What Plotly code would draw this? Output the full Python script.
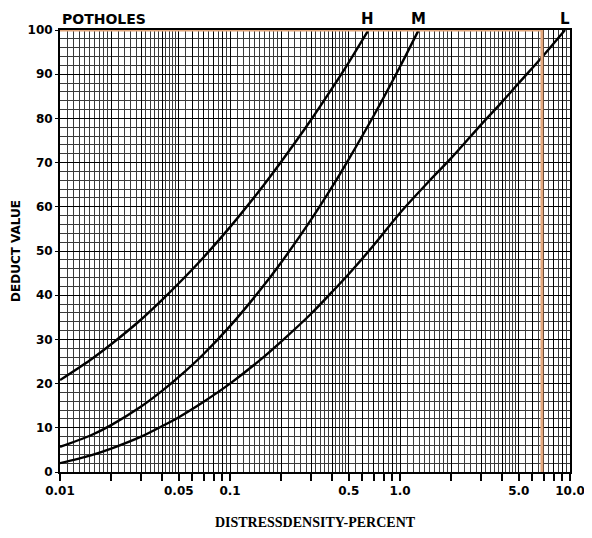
import plotly.graph_objects as go
import numpy as np

# Data (distress density %, deduct value)
h_density = [0.01, 0.015, 0.02, 0.03, 0.04, 0.05, 0.07, 0.1, 0.15, 0.2, 0.3, 0.4, 0.5, 0.648]
h_deduct = [20.8, 25.3, 28.9, 34.5, 39.0, 42.7, 48.6, 55.4, 63.8, 70.2, 79.7, 86.9, 92.7, 99.8]

m_density = [0.01, 0.015, 0.02, 0.03, 0.04, 0.05, 0.07, 0.1, 0.15, 0.2, 0.3, 0.4, 0.5, 0.7, 1.0, 1.28]
m_deduct = [5.7, 8.2, 10.6, 14.8, 18.4, 21.5, 26.7, 33.0, 41.1, 47.4, 57.1, 64.6, 70.8, 80.6, 91.7, 99.8]

l_density = [0.01, 0.015, 0.02, 0.03, 0.04, 0.05, 0.07, 0.1, 0.15, 0.2, 0.3, 0.4, 0.5, 0.7, 1.0,
             1.5, 2.0, 3.0, 4.0, 5.0, 7.0, 9.35]
l_deduct = [2.0, 3.7, 5.3, 8.0, 10.4, 12.4, 15.9, 20.0, 25.3, 29.5, 35.8, 40.8, 44.8, 51.3, 58.6,
            66.0, 71.0, 78.6, 83.8, 88.0, 94.3, 100.0]

x_tick_labels = {0.01: "0.01", 0.05: "0.05", 0.1: "0.1", 0.5: "0.5", 1.0: "1.0", 5.0: "5.0", 10.0: "10.0"}
y_ticks = list(range(0, 101, 10))
edge_x = 6.84  # orange scan-mark position

decades = [0.01, 0.1, 1.0]
major_x = [round(d * m, 6) for d in decades for m in range(1, 10)] + [10.0]
fine_mant = list(np.round(np.arange(1.0, 2.0, 0.1), 3)) + list(np.round(np.arange(2.0, 5.0, 0.2), 3)) + list(np.round(np.arange(5.0, 10.0, 0.5), 3))
minor_x = [round(d * m, 6) for d in decades for m in fine_mant]

fig = go.Figure()
for xs, ys, name in [(h_density, h_deduct, "H"), (m_density, m_deduct, "M"), (l_density, l_deduct, "L")]:
    fig.add_trace(go.Scatter(x=xs, y=ys, mode="lines", line=dict(color="black", width=2.4, shape="spline", smoothing=0.8),
                             name=name, showlegend=False, hoverinfo="skip"))
    fig.add_annotation(x=np.log10(xs[-1]), y=1.0, xref="x", yref="paper", yanchor="bottom", yshift=0,
                       text="<b>%s</b>" % name, showarrow=False,
                       font=dict(family="DejaVu Sans", size=15, color="black"))

# orange highlight (scan artifact)
fig.add_shape(type="line", xref="x", yref="y", x0=0.01, x1=edge_x, y0=100, y1=100,
              line=dict(color="#e4a77c", width=3))
fig.add_shape(type="line", xref="x", yref="y", x0=edge_x, x1=edge_x, y0=0, y1=100,
              line=dict(color="#e4a77c", width=3))

fig.update_xaxes(type="log", range=[-2, 1], automargin=False, ticklabeloverflow="allow",
                 tickvals=major_x, ticktext=[x_tick_labels.get(v, "") for v in major_x],
                 ticks="outside", ticklen=7, tickcolor="black", tickwidth=1.5,
                 showgrid=True, gridcolor="black", gridwidth=1.4,
                 minor=dict(tickvals=minor_x, showgrid=True, gridcolor="#3a3a3a", gridwidth=1, ticks=""),
                 showline=True, linecolor="black", linewidth=2, mirror=True,
                 tickfont=dict(family="DejaVu Sans", size=12, color="black", weight="bold"),
                 title=dict(text="<b>DISTRESSDENSITY-PERCENT</b>", font=dict(family="Liberation Serif", size=14, color="black"), standoff=20),
                 zeroline=False)
fig.update_yaxes(range=[0, 100], tickvals=y_ticks, ticktext=[str(v) for v in y_ticks], automargin=False,
                 ticks="outside", ticklen=3, tickcolor="black",
                 showgrid=True, gridcolor="black", gridwidth=1.4,
                 minor=dict(dtick=2, showgrid=True, gridcolor="#3a3a3a", gridwidth=1, ticks=""),
                 showline=True, linecolor="black", linewidth=2, mirror=True,
                 tickfont=dict(family="DejaVu Sans", size=12, color="black", weight="bold"),
                 title=dict(text="<b>DEDUCT VALUE</b>", font=dict(family="DejaVu Sans", size=12, color="black"), standoff=4),
                 zeroline=False)

fig.add_annotation(x=0, y=1.0, xref="paper", yref="paper", xanchor="left", yanchor="bottom", yshift=1,
                   text="<b>POTHOLES</b>", showarrow=False, font=dict(family="DejaVu Sans", size=14, color="black"))

fig.update_layout(width=576, height=522, margin=dict(l=52, r=14, t=22, b=58),
                  plot_bgcolor="white", paper_bgcolor="white")

fig.write_html("out.html")
